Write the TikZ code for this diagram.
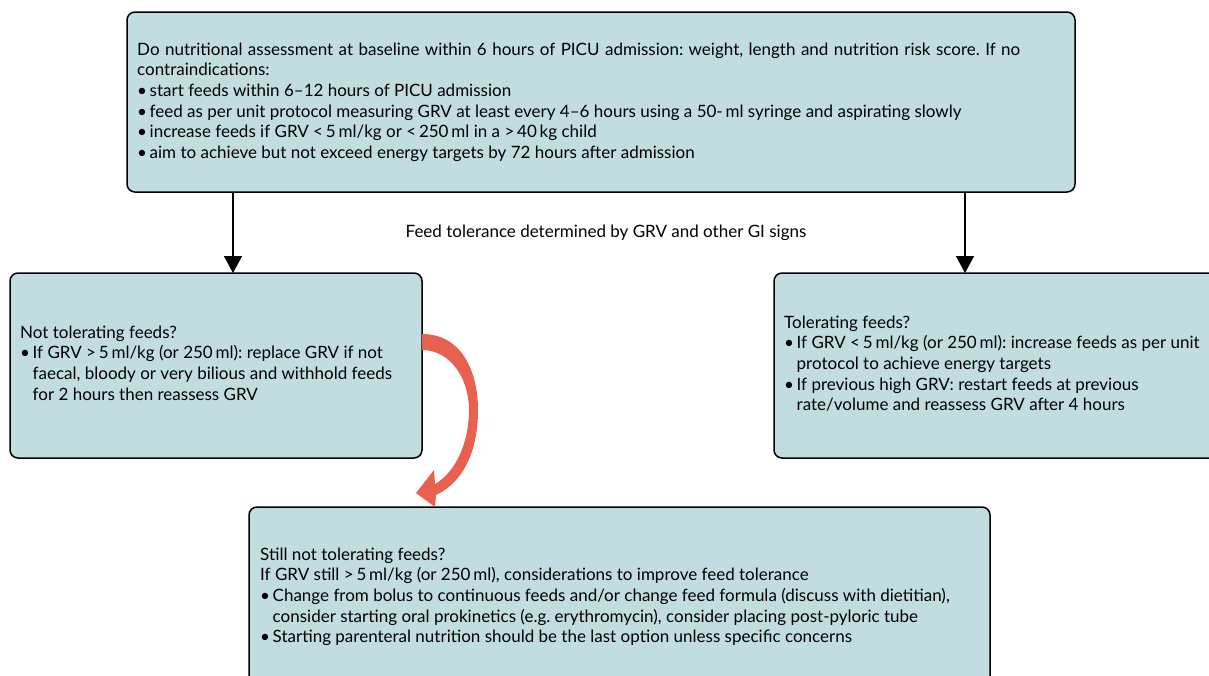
\documentclass[tikz,border=0pt]{standalone}
\usepackage{fontspec}
\setmainfont{Lato}
\usetikzlibrary{arrows.meta}
\definecolor{boxfill}{RGB}{194,221,224}
\definecolor{redarrow}{RGB}{232,96,80}
\newcommand{\bul}{\makebox[12.5pt][l]{\textbullet}}
\newcommand{\ind}{\hspace*{12.5pt}}
\frenchspacing
\tikzset{
  box/.style={draw=black, line width=1.5pt, fill=boxfill, rounded corners=8pt},
  txt/.style={anchor=north west, inner sep=0pt, align=left, font=\fontsize{17}{20.7}\selectfont},
  conn/.style={draw=black, line width=1.4pt, -{Triangle[length=17pt,width=18pt]}},
}
\begin{document}
\begin{tikzpicture}[x=1pt,y=-1pt]
\useasboundingbox (0,0) rectangle (1209,675);
\begin{scope}
\clip (0,0) rectangle (1209,675);
\draw[box] (127,12) rectangle (1075,192);
\draw[box] (10,273) rectangle (422,458);
\draw[box] (774,273) rectangle (1225,458);
\draw[box] (249,507) rectangle (990,690);
\end{scope}
\coordinate (topL) at (233,192);
\coordinate (topR) at (965,192);
\coordinate (leftT) at (233,273);
\coordinate (rightT) at (965,273);
\draw[conn] (topL) -- (leftT);
\draw[conn] (topR) -- (rightT);

\node[txt] (t1) at (137,42.4) {\makebox[883pt][s]{Do nutritional assessment at baseline within 6 hours of PICU admission: weight, length and nutrition risk score. If no}\\
contraindications:\\
\bul start feeds within 6--12 hours of PICU admission\\
\bul feed as per unit protocol measuring GRV at least every 4--6 hours using a 50-\,ml syringe and aspirating slowly\\
\bul increase feeds if GRV <\,5\,ml/kg or <\,250\,ml in a >\,40\,kg child\\
\bul aim to achieve but not exceed energy targets by 72 hours after admission};

\node[font=\fontsize{17}{20.7}\selectfont, inner sep=0pt, anchor=base] (lab) at (606,237) {Feed tolerance determined by GRV and other GI signs};

\node[txt] (t2) at (20,325.4) {Not tolerating feeds?\\
\bul If GRV >\,5\,ml/kg (or 250\,ml): replace GRV if not\\
\ind faecal, bloody or very bilious and withhold feeds\\
\ind for 2 hours then reassess GRV};

\node[txt] (t3) at (784,315.4) {Tolerating feeds?\\
\bul If GRV <\,5\,ml/kg (or 250\,ml): increase feeds as per unit\\
\ind protocol to achieve energy targets\\
\bul If previous high GRV: restart feeds at previous\\
\ind rate/volume and reassess GRV after 4 hours};

\node[txt] (t4) at (260,547.4) {Still not tolerating feeds?\\
If GRV still >\,5\,ml/kg (or 250\,ml), considerations to improve feed tolerance\\
\bul Change from bolus to continuous feeds and/or change feed formula (discuss with dietitian),\\
\ind consider starting oral prokinetics (e.g. erythromycin), consider placing post-pyloric tube\\
\bul Starting parenteral nutrition should be the last option unless specific concerns};

\fill[redarrow] (422,334) .. controls (462,334) and (478,372) .. (478,410)
  .. controls (478,450) and (464,482) .. (436,495)
  -- (435,507) -- (416,493) -- (434,470) -- (435,484)
  .. controls (456,472) and (469,442) .. (469,410)
  .. controls (469,378) and (450,350) .. (422,350) -- cycle;
\end{tikzpicture}
\end{document}
